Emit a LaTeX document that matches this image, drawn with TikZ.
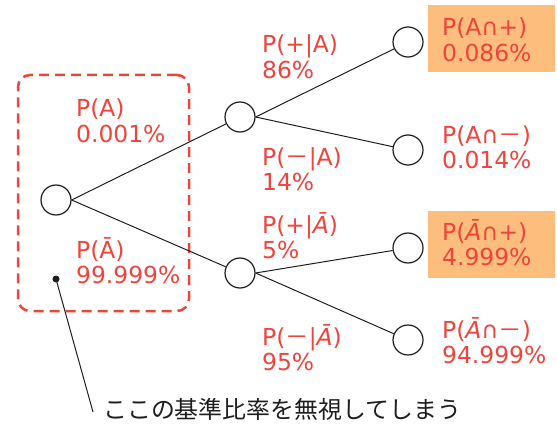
\documentclass[tikz,border=0pt]{standalone}
\usepackage{fontspec}
\setmainfont{DejaVu Sans}
\newfontfamily\cjk{Noto Sans CJK JP}
\definecolor{lblred}{RGB}{238,68,60}
\definecolor{boxorange}{RGB}{253,190,125}
\definecolor{linegray}{RGB}{30,30,30}
\newcommand{\mylines}[2]{\begin{tabular}[t]{@{}l@{}}#1\\#2\end{tabular}}
\newcommand{\mminus}{{\cjk －}}
\newcommand{\nA}{\textit{Ā}}
\begin{document}
\begin{tikzpicture}[x=1pt,y=-1pt,
  state/.style={circle, draw=linegray, line width=1.2pt, minimum size=30pt, inner sep=0pt, fill=white},
  edge/.style={draw=linegray, line width=1pt},
  prob/.style={anchor=base west, inner sep=0pt, text=lblred, font=\fontsize{23.4}{25.5}\selectfont},
  hl/.style={fill=boxorange, draw=none, minimum width=127pt, minimum height=67pt, inner sep=0pt},
  grp/.style={draw=lblred, line width=2.5pt, dash pattern=on 10pt off 6pt, rounded corners=12pt, minimum width=171pt, minimum height=236pt, inner sep=0pt}]
\useasboundingbox (0,0) rectangle (557,425);
% highlight boxes
\node[hl] (hl1) at (491.5,38.5) {};
\node[hl] (hl2) at (491.5,244.5) {};
% group box
\node[grp] (grp) at (103.5,193) {};
% states
\node[state] (r) at (56,200) {};
\node[state] (a) at (240,117) {};
\node[state] (na) at (240,273) {};
\node[state] (ap) at (408,42) {};
\node[state] (am) at (408,150) {};
\node[state] (nap) at (408,248) {};
\node[state] (nam) at (408,340) {};
% edges
\draw[edge] (r.east) -- (a);
\draw[edge] (r.east) -- (na);
\draw[edge] (a.east) -- (ap);
\draw[edge] (a.east) -- (am);
\draw[edge] (na.east) -- (nap);
\draw[edge] (na.east) -- (nam);
% labels
\node[prob] (lA) at (76,117) {\mylines{P(A)}{0.001\%}};
\node[prob] (lnA) at (76,258) {\mylines{P(Ā)}{99.999\%}};
\node[prob] (lpA) at (262,53) {\mylines{P(+|A)}{86\%}};
\node[prob] (lmA) at (262,165) {\mylines{P(\mminus|A)}{14\%}};
\node[prob] (lpnA) at (262,233) {\mylines{P(+|\nA)}{5\%}};
\node[prob] (lmnA) at (262,345) {\mylines{P(\mminus|\nA)}{95\%}};
\node[prob] (jAp) at (442,36) {\mylines{P(A∩+)}{0.086\%}};
\node[prob] (jAm) at (442,143) {\mylines{P(A∩\mminus)}{0.014\%}};
\node[prob] (jnAp) at (442,240) {\mylines{P(\nA∩+)}{4.999\%}};
\node[prob] (jnAm) at (442,338) {\mylines{P(\nA∩\mminus)}{94.999\%}};
% callout
\node[circle, fill=linegray, inner sep=0pt, minimum size=7pt] (dot) at (56,279) {};
\coordinate (tail) at (93,412);
\draw[edge] (dot.center) -- (tail);
\node[anchor=base west, inner sep=0pt, text=linegray, font=\cjk\fontsize{23.9}{26}\selectfont] (note) at (103,418) {ここの基準比率を無視してしまう};
\end{tikzpicture}
\end{document}
